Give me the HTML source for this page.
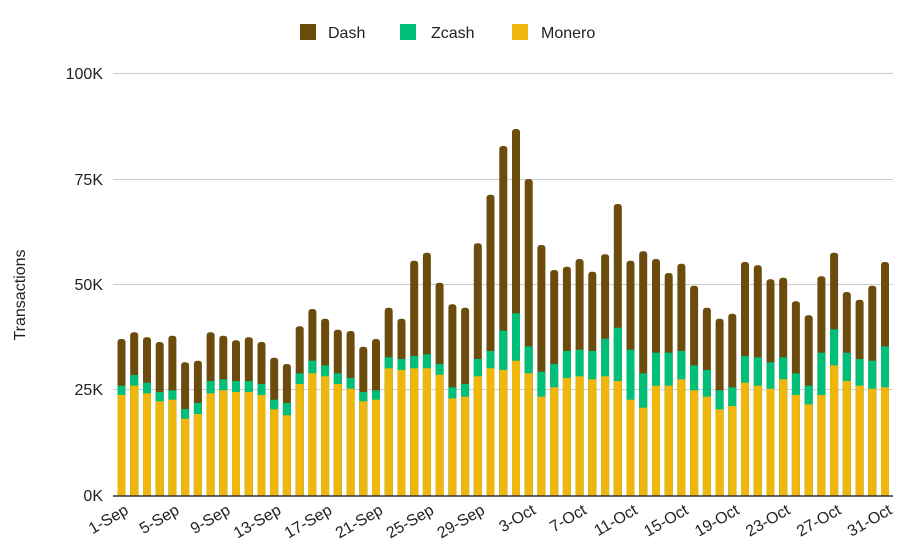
<!DOCTYPE html>
<html><head><meta charset="utf-8"><style>
html,body{margin:0;background:#fff;width:909px;height:559px;overflow:hidden}
svg{display:block;font-family:"Liberation Sans",Arial,sans-serif;overflow:hidden}
</style></head><body>
<svg width="909" height="559" viewBox="0 0 909 559" xmlns="http://www.w3.org/2000/svg">
<defs><clipPath id="c"><rect x="0" y="0" width="909" height="496"/></clipPath></defs>
<rect width="909" height="559" fill="#fff"/>
<g stroke="#cccccc" stroke-width="1">
<line x1="113" x2="893" y1="73.5" y2="73.5"/>
<line x1="113" x2="893" y1="179.5" y2="179.5"/>
<line x1="113" x2="893" y1="284.5" y2="284.5"/>
<line x1="113" x2="893" y1="389.5" y2="389.5"/>
</g>
<g font-size="16" fill="#222" text-anchor="end">
<text x="103" y="79">100K</text>
<text x="103" y="185">75K</text>
<text x="103" y="290">50K</text>
<text x="103" y="395">25K</text>
<text x="103" y="501">0K</text>
</g>
<text transform="translate(25,295) rotate(-90)" font-size="16" fill="#222" text-anchor="middle">Transactions</text>
<g font-size="16" fill="#222">
<rect x="300" y="24" width="16" height="16" fill="#6b4c0c"/><text x="328" y="38">Dash</text>
<rect x="400" y="24" width="16" height="16" fill="#00bf78"/><text x="431" y="38">Zcash</text>
<rect x="512" y="24" width="16" height="16" fill="#f0b60c"/><text x="541" y="38">Monero</text>
</g>
<g clip-path="url(#c)">
<g fill="#6b4c0c">
<rect x="117.5" y="339" width="8" height="190" rx="3"/>
<rect x="130.2" y="332.3" width="8" height="190" rx="3"/>
<rect x="143" y="337.3" width="8" height="190" rx="3"/>
<rect x="155.7" y="342" width="8" height="190" rx="3"/>
<rect x="168.4" y="335.7" width="8" height="190" rx="3"/>
<rect x="181.1" y="362.3" width="8" height="190" rx="3"/>
<rect x="193.9" y="360.7" width="8" height="190" rx="3"/>
<rect x="206.6" y="332.3" width="8" height="190" rx="3"/>
<rect x="219.3" y="335.7" width="8" height="190" rx="3"/>
<rect x="232" y="340.3" width="8" height="190" rx="3"/>
<rect x="244.8" y="337.3" width="8" height="190" rx="3"/>
<rect x="257.5" y="342" width="8" height="190" rx="3"/>
<rect x="270.2" y="357.7" width="8" height="190" rx="3"/>
<rect x="282.9" y="364" width="8" height="190" rx="3"/>
<rect x="295.7" y="326.3" width="8" height="190" rx="3"/>
<rect x="308.4" y="309" width="8" height="190" rx="3"/>
<rect x="321.1" y="318.7" width="8" height="190" rx="3"/>
<rect x="333.8" y="329.7" width="8" height="190" rx="3"/>
<rect x="346.6" y="331" width="8" height="190" rx="3"/>
<rect x="359.3" y="346.7" width="8" height="190" rx="3"/>
<rect x="372" y="339" width="8" height="190" rx="3"/>
<rect x="384.7" y="307.7" width="8" height="190" rx="3"/>
<rect x="397.5" y="318.7" width="8" height="190" rx="3"/>
<rect x="410.2" y="260.7" width="8" height="250" rx="3"/>
<rect x="422.9" y="252.7" width="8" height="250" rx="3"/>
<rect x="435.6" y="282.7" width="8" height="250" rx="3"/>
<rect x="448.4" y="304.3" width="8" height="250" rx="3"/>
<rect x="461.1" y="307.7" width="8" height="190" rx="3"/>
<rect x="473.8" y="243.3" width="8" height="260" rx="3"/>
<rect x="486.5" y="194.7" width="8" height="310" rx="3"/>
<rect x="499.3" y="146" width="8" height="360" rx="3"/>
<rect x="512" y="129" width="8" height="370" rx="3"/>
<rect x="524.7" y="179" width="8" height="320" rx="3"/>
<rect x="537.4" y="245" width="8" height="260" rx="3"/>
<rect x="550.2" y="270" width="8" height="250" rx="3"/>
<rect x="562.9" y="266.7" width="8" height="250" rx="3"/>
<rect x="575.6" y="259" width="8" height="250" rx="3"/>
<rect x="588.3" y="271.7" width="8" height="250" rx="3"/>
<rect x="601.1" y="254.3" width="8" height="250" rx="3"/>
<rect x="613.8" y="204" width="8" height="300" rx="3"/>
<rect x="626.5" y="260.7" width="8" height="250" rx="3"/>
<rect x="639.2" y="251.3" width="8" height="250" rx="3"/>
<rect x="652" y="259" width="8" height="250" rx="3"/>
<rect x="664.7" y="273" width="8" height="250" rx="3"/>
<rect x="677.4" y="263.7" width="8" height="250" rx="3"/>
<rect x="690.1" y="285.7" width="8" height="250" rx="3"/>
<rect x="702.9" y="307.7" width="8" height="190" rx="3"/>
<rect x="715.6" y="318.7" width="8" height="190" rx="3"/>
<rect x="728.3" y="313.7" width="8" height="190" rx="3"/>
<rect x="741" y="262" width="8" height="250" rx="3"/>
<rect x="753.8" y="265.3" width="8" height="250" rx="3"/>
<rect x="766.5" y="279.3" width="8" height="250" rx="3"/>
<rect x="779.2" y="277.7" width="8" height="250" rx="3"/>
<rect x="791.9" y="301.3" width="8" height="250" rx="3"/>
<rect x="804.7" y="315.3" width="8" height="190" rx="3"/>
<rect x="817.4" y="276.3" width="8" height="250" rx="3"/>
<rect x="830.1" y="252.7" width="8" height="250" rx="3"/>
<rect x="842.8" y="292" width="8" height="250" rx="3"/>
<rect x="855.6" y="299.7" width="8" height="250" rx="3"/>
<rect x="868.3" y="285.7" width="8" height="250" rx="3"/>
<rect x="881" y="262" width="8" height="250" rx="3"/>
</g>
<g fill="#00bf78">
<rect x="117.5" y="385.7" width="8" height="140"/>
<rect x="130.2" y="375" width="8" height="140"/>
<rect x="143" y="382.7" width="8" height="140"/>
<rect x="155.7" y="392" width="8" height="140"/>
<rect x="168.4" y="390.3" width="8" height="140"/>
<rect x="181.1" y="409" width="8" height="140"/>
<rect x="193.9" y="403" width="8" height="140"/>
<rect x="206.6" y="381" width="8" height="140"/>
<rect x="219.3" y="379.3" width="8" height="140"/>
<rect x="232" y="381" width="8" height="140"/>
<rect x="244.8" y="381" width="8" height="140"/>
<rect x="257.5" y="384" width="8" height="140"/>
<rect x="270.2" y="399.7" width="8" height="140"/>
<rect x="282.9" y="403" width="8" height="140"/>
<rect x="295.7" y="373.3" width="8" height="140"/>
<rect x="308.4" y="360.7" width="8" height="190"/>
<rect x="321.1" y="365.3" width="8" height="190"/>
<rect x="333.8" y="373.3" width="8" height="140"/>
<rect x="346.6" y="378" width="8" height="140"/>
<rect x="359.3" y="392" width="8" height="140"/>
<rect x="372" y="390.3" width="8" height="140"/>
<rect x="384.7" y="357.3" width="8" height="190"/>
<rect x="397.5" y="359" width="8" height="190"/>
<rect x="410.2" y="356" width="8" height="190"/>
<rect x="422.9" y="354.3" width="8" height="190"/>
<rect x="435.6" y="364" width="8" height="190"/>
<rect x="448.4" y="387.3" width="8" height="140"/>
<rect x="461.1" y="384" width="8" height="140"/>
<rect x="473.8" y="359" width="8" height="190"/>
<rect x="486.5" y="351" width="8" height="190"/>
<rect x="499.3" y="330.7" width="8" height="190"/>
<rect x="512" y="313.3" width="8" height="190"/>
<rect x="524.7" y="346.3" width="8" height="190"/>
<rect x="537.4" y="371.7" width="8" height="140"/>
<rect x="550.2" y="364" width="8" height="190"/>
<rect x="562.9" y="351" width="8" height="190"/>
<rect x="575.6" y="349.7" width="8" height="190"/>
<rect x="588.3" y="351" width="8" height="190"/>
<rect x="601.1" y="338.7" width="8" height="190"/>
<rect x="613.8" y="327.7" width="8" height="190"/>
<rect x="626.5" y="349.7" width="8" height="190"/>
<rect x="639.2" y="373.3" width="8" height="140"/>
<rect x="652" y="352.7" width="8" height="190"/>
<rect x="664.7" y="352.7" width="8" height="190"/>
<rect x="677.4" y="351" width="8" height="190"/>
<rect x="690.1" y="365.3" width="8" height="190"/>
<rect x="702.9" y="370" width="8" height="140"/>
<rect x="715.6" y="390.3" width="8" height="140"/>
<rect x="728.3" y="387.3" width="8" height="140"/>
<rect x="741" y="356" width="8" height="190"/>
<rect x="753.8" y="357.3" width="8" height="190"/>
<rect x="766.5" y="362.3" width="8" height="190"/>
<rect x="779.2" y="357.3" width="8" height="190"/>
<rect x="791.9" y="373.3" width="8" height="140"/>
<rect x="804.7" y="385.7" width="8" height="140"/>
<rect x="817.4" y="352.7" width="8" height="190"/>
<rect x="830.1" y="329.3" width="8" height="190"/>
<rect x="842.8" y="352.7" width="8" height="190"/>
<rect x="855.6" y="359" width="8" height="190"/>
<rect x="868.3" y="360.7" width="8" height="190"/>
<rect x="881" y="346.3" width="8" height="190"/>
</g>
<g fill="#f0b60c">
<rect x="117.5" y="395" width="8" height="140"/>
<rect x="130.2" y="385.7" width="8" height="140"/>
<rect x="143" y="393.3" width="8" height="140"/>
<rect x="155.7" y="401.3" width="8" height="140"/>
<rect x="168.4" y="399.7" width="8" height="140"/>
<rect x="181.1" y="418.7" width="8" height="140"/>
<rect x="193.9" y="414" width="8" height="140"/>
<rect x="206.6" y="393.3" width="8" height="140"/>
<rect x="219.3" y="390.3" width="8" height="140"/>
<rect x="232" y="392" width="8" height="140"/>
<rect x="244.8" y="392" width="8" height="140"/>
<rect x="257.5" y="395" width="8" height="140"/>
<rect x="270.2" y="409.3" width="8" height="140"/>
<rect x="282.9" y="415.3" width="8" height="140"/>
<rect x="295.7" y="384" width="8" height="140"/>
<rect x="308.4" y="373.3" width="8" height="140"/>
<rect x="321.1" y="376.3" width="8" height="140"/>
<rect x="333.8" y="384" width="8" height="140"/>
<rect x="346.6" y="388.7" width="8" height="140"/>
<rect x="359.3" y="401.3" width="8" height="140"/>
<rect x="372" y="399.7" width="8" height="140"/>
<rect x="384.7" y="368.3" width="8" height="140"/>
<rect x="397.5" y="370" width="8" height="140"/>
<rect x="410.2" y="368.3" width="8" height="140"/>
<rect x="422.9" y="368.3" width="8" height="140"/>
<rect x="435.6" y="374.7" width="8" height="140"/>
<rect x="448.4" y="398.3" width="8" height="140"/>
<rect x="461.1" y="396.7" width="8" height="140"/>
<rect x="473.8" y="376.3" width="8" height="140"/>
<rect x="486.5" y="368.3" width="8" height="140"/>
<rect x="499.3" y="370" width="8" height="140"/>
<rect x="512" y="360.7" width="8" height="140"/>
<rect x="524.7" y="373.3" width="8" height="140"/>
<rect x="537.4" y="396.7" width="8" height="140"/>
<rect x="550.2" y="387.3" width="8" height="140"/>
<rect x="562.9" y="378" width="8" height="140"/>
<rect x="575.6" y="376.3" width="8" height="140"/>
<rect x="588.3" y="379.3" width="8" height="140"/>
<rect x="601.1" y="376.3" width="8" height="140"/>
<rect x="613.8" y="381" width="8" height="140"/>
<rect x="626.5" y="399.7" width="8" height="140"/>
<rect x="639.2" y="407.7" width="8" height="140"/>
<rect x="652" y="385.7" width="8" height="140"/>
<rect x="664.7" y="385.7" width="8" height="140"/>
<rect x="677.4" y="379.3" width="8" height="140"/>
<rect x="690.1" y="390.3" width="8" height="140"/>
<rect x="702.9" y="396.7" width="8" height="140"/>
<rect x="715.6" y="409.3" width="8" height="140"/>
<rect x="728.3" y="406" width="8" height="140"/>
<rect x="741" y="382.7" width="8" height="140"/>
<rect x="753.8" y="385.7" width="8" height="140"/>
<rect x="766.5" y="388.7" width="8" height="140"/>
<rect x="779.2" y="379.3" width="8" height="140"/>
<rect x="791.9" y="395" width="8" height="140"/>
<rect x="804.7" y="404.3" width="8" height="140"/>
<rect x="817.4" y="395" width="8" height="140"/>
<rect x="830.1" y="365.3" width="8" height="140"/>
<rect x="842.8" y="381" width="8" height="140"/>
<rect x="855.6" y="385.7" width="8" height="140"/>
<rect x="868.3" y="388.7" width="8" height="140"/>
<rect x="881" y="387.3" width="8" height="140"/>
</g>
</g>
<line x1="113" x2="893" y1="496" y2="496" stroke="#333" stroke-width="1.5"/>
<g font-size="16" fill="#222" text-anchor="end">
<text transform="translate(129.5,513) rotate(-30)">1-Sep</text>
<text transform="translate(180.4,513) rotate(-30)">5-Sep</text>
<text transform="translate(231.3,513) rotate(-30)">9-Sep</text>
<text transform="translate(282.2,513) rotate(-30)">13-Sep</text>
<text transform="translate(333.1,513) rotate(-30)">17-Sep</text>
<text transform="translate(384,513) rotate(-30)">21-Sep</text>
<text transform="translate(434.9,513) rotate(-30)">25-Sep</text>
<text transform="translate(485.8,513) rotate(-30)">29-Sep</text>
<text transform="translate(536.7,513) rotate(-30)">3-Oct</text>
<text transform="translate(587.6,513) rotate(-30)">7-Oct</text>
<text transform="translate(638.5,513) rotate(-30)">11-Oct</text>
<text transform="translate(689.4,513) rotate(-30)">15-Oct</text>
<text transform="translate(740.3,513) rotate(-30)">19-Oct</text>
<text transform="translate(791.2,513) rotate(-30)">23-Oct</text>
<text transform="translate(842.1,513) rotate(-30)">27-Oct</text>
<text transform="translate(893,513) rotate(-30)">31-Oct</text>
</g>
</svg>
</body></html>
